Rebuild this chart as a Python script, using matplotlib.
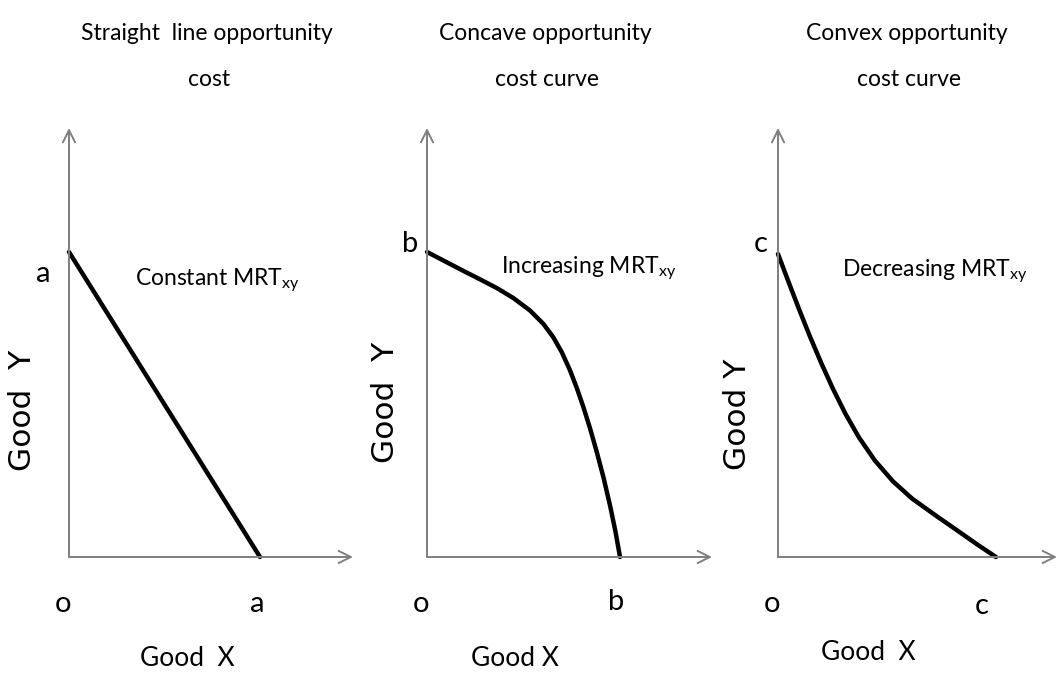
import matplotlib
matplotlib.use("Agg")
import matplotlib.pyplot as plt

# --- data (quantities, origin at 0) ---
titles = [["Straight  line opportunity", "cost"],
          ["Concave opportunity", "cost curve"],
          ["Convex opportunity", "cost curve"]]
notes = ["Constant MRT$_\\mathrm{xy}$", "Increasing MRT$_\\mathrm{xy}$", "Decreasing MRT$_\\mathrm{xy}$"]
intercept_labels = ["a", "b", "c"]
x_labels = ["Good  X", "Good X", "Good  X"]
y_labels = ["Good  Y", "Good  Y", "Good Y"]

good_x_1 = [0, 19.1]
good_y_1 = [30.5, 0]
good_x_2 = [0, 1.83, 3.83, 5.3, 6.97, 8.63, 10.3, 11.63, 12.63, 13.47, 14.3, 14.97,
            15.63, 16.3, 16.97, 17.67, 18.33, 18.85, 19.3]
good_y_2 = [30.5, 29.55, 28.51, 27.77, 26.9, 25.9, 24.65, 23.32, 21.97, 20.5, 18.67, 16.93,
            15.02, 12.88, 10.53, 7.87, 5.03, 2.53, 0]
good_x_3 = [0, 1.05, 2.1, 3.2, 4.35, 5.5, 6.75, 8.1, 9.7, 11.5, 13.4, 15.7, 18.0, 20.0, 21.8]
good_y_3 = [30.3, 27.52, 24.79, 22.04, 19.34, 16.81, 14.31, 11.95, 9.63, 7.56, 5.85, 4.2, 2.6, 1.2, 0]
curves = [(good_x_1, good_y_1), (good_x_2, good_y_2), (good_x_3, good_y_3)]

# --- layout (pixels) ---
W, H = 1060, 673
FONT = ["Lato", "DejaVu Sans"]
plt.rcParams["mathtext.fontset"] = "custom"
plt.rcParams["mathtext.rm"] = "Lato"
plt.rcParams["mathtext.it"] = "Lato"

origins_x = [69, 427, 778]
axis_y0, axis_top = 557, 128
arrow_ends = [353, 712, 1057]
title_x = [207, 545, 907]
note_pos = [(135, 280), (501, 268), (842, 271)]
ylab_letter_pos = [(43, 274), (410, 244), (761, 244)]
xlab_letter_pos = [(257, 604), (616, 602), (982, 606)]
goodx_pos = [(187, 658), (515, 658), (868, 653)]
goody_pos = [(23, 410), (386, 402), (737, 414)]
axis_grey = "#7f7f7f"

fig = plt.figure(figsize=(W / 100, H / 100), dpi=100)


def put(x, y, s, **kw):
    kw.setdefault("family", FONT)
    kw.setdefault("ha", "center")
    kw.setdefault("va", "center")
    fig.text(x / W, 1 - y / H, s, **kw)


for i in range(3):
    ox, xend = origins_x[i], arrow_ends[i]
    xmax = (xend - ox) / 10
    ymax = (axis_y0 - axis_top) / 10
    ax = fig.add_axes([ox / W, (H - axis_y0) / H, (xend - ox) / W, (axis_y0 - axis_top) / H])
    ax.set_xlim(0, xmax)
    ax.set_ylim(0, ymax)
    ax.axis("off")
    arrow = dict(arrowstyle="->", color=axis_grey, lw=1.4, mutation_scale=22, shrinkA=0, shrinkB=0)
    ax.annotate("", xy=(xmax, 0), xytext=(0, 0), arrowprops=arrow, annotation_clip=False)
    ax.annotate("", xy=(0, ymax), xytext=(0, 0), arrowprops=arrow, annotation_clip=False)
    xs, ys = curves[i]
    ax.plot(xs, ys, color="black", lw=3.2, solid_capstyle="round", solid_joinstyle="round", clip_on=False)

    put(title_x[i], 33, titles[i][0], fontsize=16.5)
    put(title_x[i] + 2, 79, titles[i][1], fontsize=16.5)
    put(note_pos[i][0], note_pos[i][1], notes[i], fontsize=16.5, ha="left")
    put(*ylab_letter_pos[i], intercept_labels[i], fontsize=21)
    put(*xlab_letter_pos[i], intercept_labels[i], fontsize=21)
    put(ox - 6, 604, "o", fontsize=21)
    put(*goodx_pos[i], x_labels[i], fontsize=19)
    put(*goody_pos[i], y_labels[i], fontsize=22.5, rotation=90, family=["DejaVu Sans"])

fig.savefig("out.png", dpi=100, facecolor="white")
